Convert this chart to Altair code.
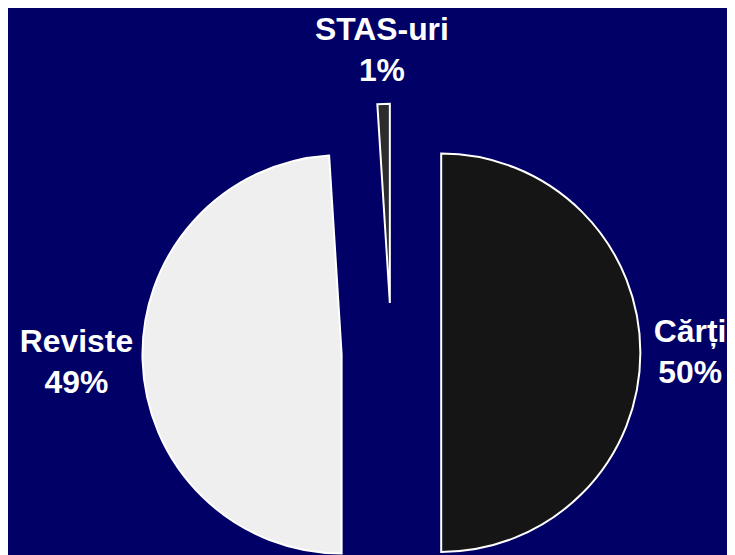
import altair as alt
import pandas as pd

# ---- data ----
categories = ["Cărți", "Reviste", "STAS-uri"]
values = [50, 49, 1]
fills = ["#151515", "#efefef", "#2c2c2c"]

df = pd.DataFrame({"cat": categories, "value": values, "order": list(range(len(categories)))})

# ---- layout / style ----
W, H = 717, 537
CX, CY = 385, 345      # pie centre (pixels inside the chart)
R = 200                # pie radius
EXPLODE = 50           # explosion distance of every slice
GAP_R = 262            # radius where label boxes start
CHAR_W = 7.6           # approx. half-width contribution per character
HALF_H = 40            # approx. half height of a two-line label
LINE_H = 41
BG = "#000066"
FONT = "Liberation Sans"

base = (
    alt.Chart(df)
    .transform_joinaggregate(total="sum(value)")
    .transform_calculate(pct="100 * datum.value / datum.total")
    .transform_window(cum="sum(pct)", sort=[alt.SortField("order")])
    .transform_calculate(start="datum.cum - datum.pct")
    .transform_calculate(mid="datum.cum - datum.pct / 2")
    .transform_calculate(ang="2 * PI * datum.mid / 100")
    .transform_calculate(cx=f"{CX} + {EXPLODE} * sin(datum.ang)")
    .transform_calculate(cy=f"{CY} - {EXPLODE} * cos(datum.ang)")
    .transform_calculate(ptxt="format(datum.pct, '.0f') + '%'")
    .transform_calculate(
        dist=f"{GAP_R} + {CHAR_W} * max(length(datum.cat), length(datum.ptxt)) * abs(sin(datum.ang))"
             f" + {HALF_H} * abs(cos(datum.ang))"
    )
    .transform_calculate(lx=f"{CX} + datum.dist * sin(datum.ang)")
    .transform_calculate(ly=f"{CY} - datum.dist * cos(datum.ang) - {LINE_H / 2}")
    .transform_calculate(label="datum.cat + '\\n' + datum.ptxt")
)

theta_scale = alt.Scale(domain=[0, 100], range=[0, 6.283185307179586])

arcs = base.mark_arc(radius=R, stroke="white", strokeWidth=2).encode(
    theta=alt.Theta("start:Q", scale=theta_scale, stack=False),
    theta2="cum:Q",
    x=alt.X("cx:Q", scale=None, axis=None),
    y=alt.Y("cy:Q", scale=None, axis=None),
    color=alt.Color("cat:N", scale=alt.Scale(domain=categories, range=fills), legend=None),
)

labels = base.mark_text(
    align="center", baseline="middle", lineBreak="\n", lineHeight=LINE_H,
    font=FONT, fontSize=32, fontWeight="bold", color="white",
).encode(
    x=alt.X("lx:Q", scale=None, axis=None),
    y=alt.Y("ly:Q", scale=None, axis=None),
    text="label:N",
)

chart = (
    alt.layer(arcs, labels)
    .properties(width=W, height=H, padding=0, background=BG)
    .configure_view(stroke=None)
)

chart.save("out.html", embed_options={"renderer": "svg", "actions": False})
